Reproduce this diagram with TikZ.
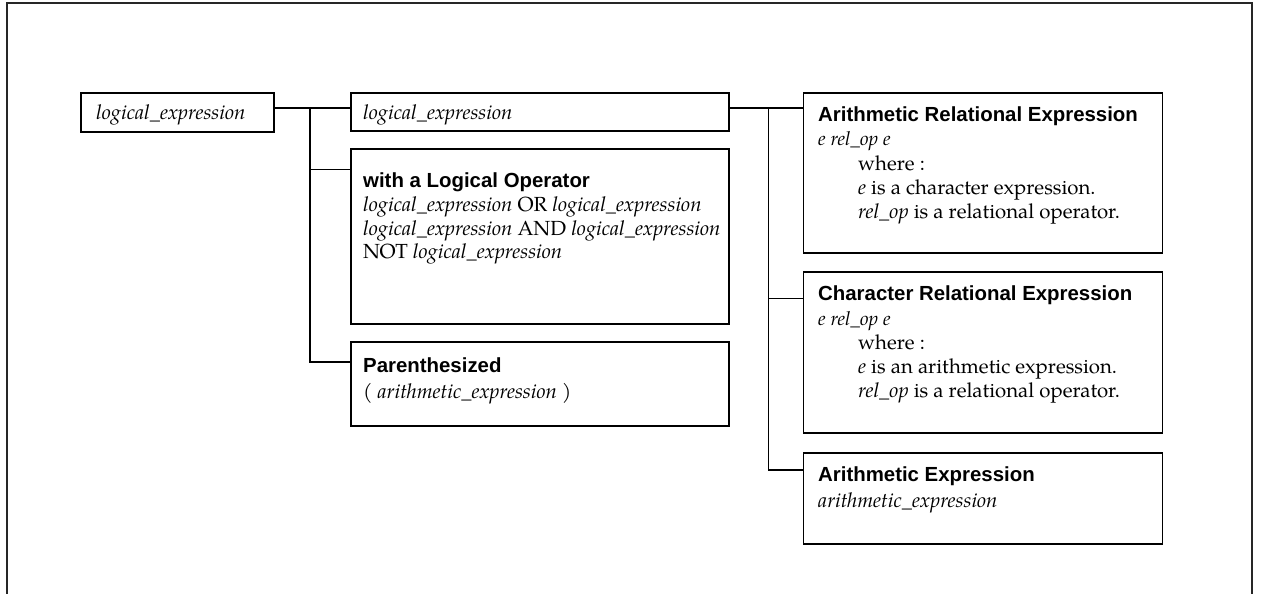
\documentclass[tikz,border=0pt]{standalone}
\usepackage{fontspec}
\setsansfont{Liberation Sans}
% Palatino-like serif for the syntax text
\newfontfamily\pal{TeX Gyre Pagella}
\newcommand\hdfont{\sffamily\bfseries}

\tikzset{
  box/.style={draw, line width=1.8pt, anchor=north west, inner sep=0pt, outer sep=0pt},
  txt/.style={anchor=base west, inner sep=0pt, font=\pal\fontsize{20.4}{23.3}\selectfont},
  small/.style={anchor=base west, inner sep=0pt, font=\pal\fontsize{19.3}{22}\selectfont},
  ttl/.style={anchor=base west, inner sep=0pt, font=\hdfont\fontsize{20.4}{24}\selectfont},
  wire/.style={line width=1.6pt},
}

\begin{document}
\begin{tikzpicture}[x=1pt, y=-1pt]
\useasboundingbox (0,0) rectangle (1261,594);

% outer frame, open at the bottom
\draw[line width=2pt, black!85] (6.5,594) -- (6.5,3.5) -- (1252,3.5) -- (1252,594);

% boxes
\node[box, minimum width=193pt,   minimum height=39pt]    (A) at (81,92.7) {};
\node[box, minimum width=378.6pt, minimum height=38pt]    (B) at (350.7,92.7) {};
\node[box, minimum width=378.6pt, minimum height=175pt]   (C) at (350.7,149.3) {};
\node[box, minimum width=378.6pt, minimum height=84.3pt]  (D) at (350.7,341.7) {};
\node[box, minimum width=359pt,   minimum height=160.6pt] (E) at (803.5,92.7) {};
\node[box, minimum width=359pt,   minimum height=161.6pt] (F) at (803.5,271.7) {};
\node[box, minimum width=359pt,   minimum height=90.7pt]  (G) at (803.5,453.3) {};

% texts
\node[txt] (At) at (96,119) {\itshape logical\_expression};
\node[txt] (Bt) at (363,119) {\itshape logical\_expression};

\node[ttl] (Ct) at (363,187) {with a Logical Operator};
\node[txt] (C1) at (363,211.5) {{\itshape logical\_expression} OR {\itshape logical\_expression}};
\node[txt] (C2) at (363,235) {{\itshape logical\_expression} AND {\itshape logical\_expression}};
\node[txt] (C3) at (363,258.5) {NOT {\itshape logical\_expression}};

\node[ttl] (Dt) at (363,372) {Parenthesized};
\node[txt] (D1) at (363,398) {( {\itshape arithmetic\_expression} )};

\node[ttl]   (Et) at (818,121.5) {Arithmetic Relational Expression};
\node[small] (E1) at (818,145.5) {\itshape e rel\_op e};
\node[txt]   (E2) at (858,170.5) {where :};
\node[txt]   (E3) at (858,194.5) {{\itshape e} is a character expression.};
\node[txt]   (E4) at (858,218) {{\itshape rel\_op} is a relational operator.};

\node[ttl]   (Ft) at (818,300.5) {Character Relational Expression};
\node[small] (F1) at (818,325) {\itshape e rel\_op e};
\node[txt]   (F2) at (858,349.5) {where :};
\node[txt]   (F3) at (858,373.5) {{\itshape e} is an arithmetic expression.};
\node[txt]   (F4) at (858,397) {{\itshape rel\_op} is a relational operator.};

\node[ttl] (Gt) at (818,481.5) {Arithmetic Expression};
\node[txt] (G1) at (818,507) {\itshape arithmetic\_expression};

% junction points of the two trunks
\coordinate (j1)  at (310,108);
\coordinate (j1c) at (310,169.5);
\coordinate (j1d) at (310,361.7);
\coordinate (j2)  at (768.3,108);
\coordinate (j2f) at (768.3,298.3);
\coordinate (j2g) at (768.3,470);

% connectors
\draw[wire] (A.east |- j1) -- (B.west |- j1);
\draw[wire] (j1) -- (j1d) -- (D.west |- j1d);
\draw[wire] (j1c) -- (C.west |- j1c);

\draw[wire] (B.east |- j2) -- (E.west |- j2);
\draw[wire] (j2) -- (j2g) -- (G.west |- j2g);
\draw[wire] (j2f) -- (F.west |- j2f);
\end{tikzpicture}
\end{document}
